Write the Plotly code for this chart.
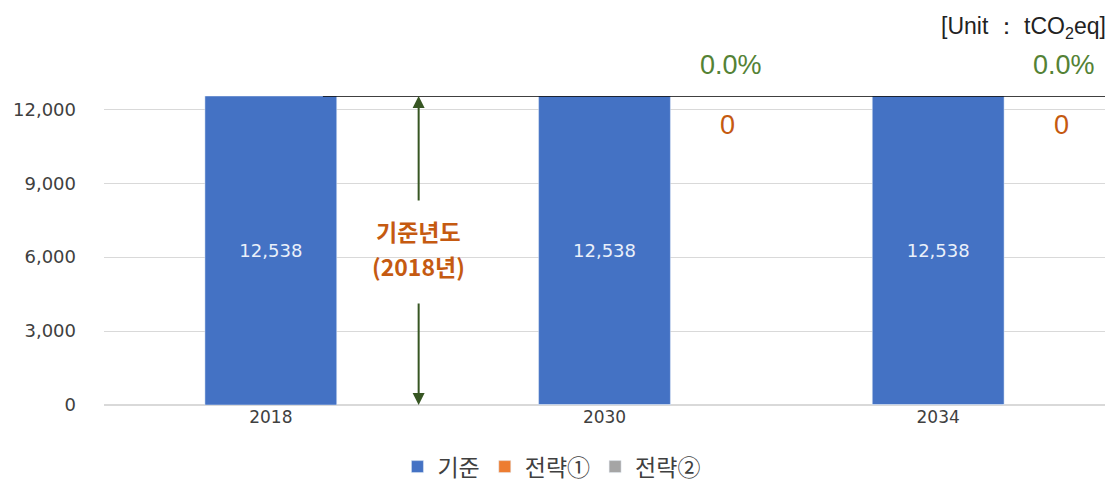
import plotly.graph_objects as go

years = ["2018", "2030", "2034"]
base = [12538, 12538, 12538]
strat1 = [None, 0, 0]
strat2 = [None, 0, 0]
pct_labels = ["0.0%", "0.0%"]
zero_labels = ["0", "0"]
ref_value = 12538
ytick_vals = [0, 3000, 6000, 9000, 12000]

KFONT = "Noto Sans CJK KR"
NFONT = "DejaVu Sans"
LFONT = "Liberation Sans, Arial, sans-serif"

fig = go.Figure()
fig.add_trace(go.Bar(
    x=years, y=base, name="기준", marker_color="#4472C4", width=0.395,
    text=[f"{v:,}" for v in base], textposition="inside", insidetextanchor="middle",
    textfont=dict(color="#EAF0FA", size=18, family=NFONT), hoverinfo="skip"))
fig.add_trace(go.Bar(x=years, y=strat1, name="전략①", marker_color="#ED7D31", width=0.395))
fig.add_trace(go.Bar(x=years, y=strat2, name="전략②", marker_color="#A5A5A5", width=0.395))

# reference line at base year level
fig.add_shape(type="line", xref="x", yref="y", x0=0.156, x1=2.5, y0=ref_value, y1=ref_value,
              line=dict(color="black", width=1.5))

anns = []
for i, (p, z) in enumerate(zip(pct_labels, zero_labels)):
    idx = i + 1
    anns.append(dict(x=idx, y=ref_value, xref="x", yref="y", text=p, showarrow=False,
                     xshift=126, yshift=31, font=dict(color="#548235", size=27, family=LFONT)))
    anns.append(dict(x=idx, y=ref_value, xref="x", yref="y", text=z, showarrow=False,
                     xshift=123, yshift=-29, font=dict(color="#C55A11", size=27, family=LFONT)))

# vertical arrows
arrow_x = 0.443
anns.append(dict(x=arrow_x, y=ref_value, ax=arrow_x, ay=8238, xref="x", yref="y", axref="x", ayref="y",
                 showarrow=True, arrowhead=2, arrowsize=1.2, arrowwidth=2, arrowcolor="#375623", text=""))
anns.append(dict(x=arrow_x, y=0, ax=arrow_x, ay=4180, xref="x", yref="y", axref="x", ayref="y",
                 showarrow=True, arrowhead=2, arrowsize=1.2, arrowwidth=2, arrowcolor="#375623", text=""))
anns.append(dict(x=arrow_x, y=7080, xref="x", yref="y", text="<b>기준년도</b>", showarrow=False,
                 font=dict(color="#C55A11", size=23, family=KFONT)))
anns.append(dict(x=arrow_x, y=5620, xref="x", yref="y", text="<b>(2018년)</b>", showarrow=False,
                 font=dict(color="#C55A11", size=23, family=KFONT)))
anns.append(dict(x=1.0, y=1.0, xref="paper", yref="paper", xanchor="right", yanchor="middle",
                 xshift=3, yshift=69, showarrow=False,
                 text="[Unit ： tCO<sub>2</sub>eq]",
                 font=dict(color="#222222", size=23, family=LFONT)))

fig.update_layout(
    width=1119, height=484,
    margin=dict(l=104, r=14, t=96, b=79, autoexpand=False),
    barmode="overlay",
    plot_bgcolor="white", paper_bgcolor="white",
    showlegend=True,
    legend=dict(orientation="h", x=0.447, xanchor="center", y=-0.13, yanchor="top",
                font=dict(size=23, family=KFONT, color="#404040"), itemwidth=30,
                traceorder="normal"),
    annotations=anns,
    xaxis=dict(type="category", range=[-0.5, 2.5], showgrid=False, showline=False, ticks="",
               automargin=False,
               tickfont=dict(size=17, family=NFONT, color="#404040")),
    yaxis=dict(range=[0, ref_value], tickvals=ytick_vals, tickformat=",", showgrid=True,
               gridcolor="#D9D9D9", gridwidth=1, zeroline=True, zerolinecolor="#D9D9D9",
               showline=False, ticks="", ticklabelstandoff=27, automargin=False,
               tickfont=dict(size=18, family=NFONT, color="#404040")),
)

fig.write_html("out.html", config={"displayModeBar": False},
               post_script="document.body.style.margin='0';document.body.style.padding='0';")
